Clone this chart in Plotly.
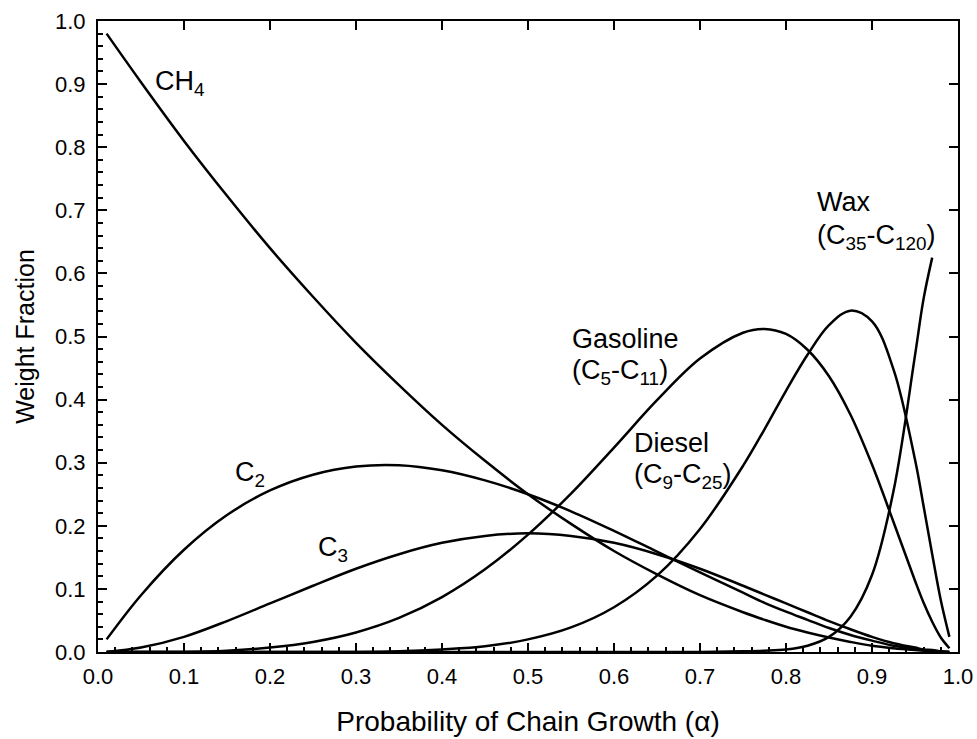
import plotly.graph_objects as go

# Probability of chain growth (alpha) sample points
alpha = [0.01, 0.05, 0.10, 0.15, 0.20, 0.25, 0.30, 0.35, 0.40, 0.45, 0.50, 0.55,
         0.60, 0.65, 0.70, 0.75, 0.775, 0.80, 0.825, 0.85, 0.875, 0.90, 0.925,
         0.95, 0.96, 0.97, 0.98, 0.99]

ch4 = [0.980, 0.903, 0.810, 0.723, 0.640, 0.563, 0.490, 0.423, 0.360, 0.303, 0.250, 0.203,
       0.160, 0.123, 0.090, 0.063, 0.051, 0.040, 0.031, 0.023, 0.016, 0.010, 0.006,
       0.003, 0.002, 0.001, 0.000, 0.000]
c2 = [0.020, 0.090, 0.162, 0.217, 0.256, 0.281, 0.294, 0.296, 0.288, 0.272, 0.250, 0.223,
      0.192, 0.159, 0.126, 0.094, 0.078, 0.064, 0.051, 0.038, 0.027, 0.018, 0.010,
      0.005, 0.003, 0.002, 0.001, 0.000]
c3 = [0.000, 0.007, 0.024, 0.049, 0.077, 0.105, 0.132, 0.155, 0.173, 0.184, 0.188, 0.184,
      0.173, 0.155, 0.132, 0.105, 0.091, 0.077, 0.063, 0.049, 0.036, 0.024, 0.014,
      0.007, 0.004, 0.003, 0.001, 0.000]
gasoline = [0.000, 0.000, 0.000, 0.002, 0.007, 0.016, 0.031, 0.054, 0.087, 0.131, 0.186, 0.251,
            0.324, 0.399, 0.465, 0.506, 0.512, 0.504, 0.479, 0.437, 0.376, 0.297, 0.206,
            0.113, 0.078, 0.048, 0.023, 0.006]
diesel = [0.000, 0.000, 0.000, 0.000, 0.000, 0.000, 0.000, 0.001, 0.004, 0.009, 0.020, 0.039,
          0.071, 0.121, 0.195, 0.295, 0.353, 0.414, 0.471, 0.518, 0.541, 0.524, 0.448,
          0.305, 0.231, 0.155, 0.082, 0.024]
wax = [0.000, 0.000, 0.000, 0.000, 0.000, 0.000, 0.000, 0.000, 0.000, 0.000, 0.000, 0.000,
       0.000, 0.000, 0.000, 0.001, 0.002, 0.004, 0.010, 0.024, 0.056, 0.122, 0.255,
       0.470, 0.560, 0.625, None, None]

series = [ch4, c2, c3, gasoline, diesel, wax]

# Curve labels: (lines of text, alpha, weight fraction)
labels = [
    (["CH<sub>4</sub>"], 0.064, [0.901]),
    (["C<sub>2</sub>"], 0.157, [0.282]),
    (["C<sub>3</sub>"], 0.253, [0.163]),
    (["Gasoline", "(C<sub>5</sub>-C<sub>11</sub>)"], 0.549, [0.496, 0.444]),
    (["Diesel", "(C<sub>9</sub>-C<sub>25</sub>)"], 0.621, [0.332, 0.279]),
    (["Wax", "(C<sub>35</sub>-C<sub>120</sub>)"], 0.834, [0.713, 0.657]),
]

x_ticks = [0.0, 0.1, 0.2, 0.3, 0.4, 0.5, 0.6, 0.7, 0.8, 0.9, 1.0]
y_ticks = [0.0, 0.1, 0.2, 0.3, 0.4, 0.5, 0.6, 0.7, 0.8, 0.9, 1.0]

FONT = "Liberation Sans, Arial, sans-serif"

fig = go.Figure()
for s in series:
    fig.add_trace(go.Scatter(x=alpha, y=s, mode="lines",
                             line=dict(color="black", width=2.5, shape="spline", smoothing=1.0),
                             showlegend=False, hoverinfo="skip"))
# empty trace for the mirrored top/right axes
fig.add_trace(go.Scatter(x=[], y=[], xaxis="x2", yaxis="y2", showlegend=False))

for lines, ax, ys in labels:
    for txt, yy in zip(lines, ys):
        fig.add_annotation(x=ax, y=yy, xref="x", yref="y", text=txt, showarrow=False,
                           xanchor="left", yanchor="middle",
                           font=dict(family=FONT, size=27, color="black"))

axis_common = dict(range=[0, 1], showgrid=False, zeroline=False, showline=True,
                   linecolor="black", linewidth=2, ticks="inside", ticklen=9,
                   tickwidth=1.5, tickcolor="black",
                   tickfont=dict(family=FONT, size=22, color="black"))

fig.update_layout(
    width=977, height=739,
    margin=dict(l=97.5, r=19, t=21, b=87, autoexpand=False),
    paper_bgcolor="white", plot_bgcolor="white",
    font=dict(family=FONT, color="black"),
    xaxis=dict(**axis_common, tickvals=x_ticks, ticktext=[f"{v:.1f}" for v in x_ticks],
               mirror=True, ticklabelstandoff=4,
               minor=dict(dtick=0.02, ticks="inside", ticklen=5, tickwidth=1.5, tickcolor="black"),
               title=dict(text="Probability of Chain Growth (α)",
                          font=dict(family=FONT, size=28, color="black"), standoff=23)),
    yaxis=dict(**axis_common, tickvals=y_ticks, ticktext=[f"{v:.1f}" for v in y_ticks],
               mirror=True, ticklabelstandoff=6,
               minor=dict(dtick=0.02, ticks="inside", ticklen=5, tickwidth=1.5, tickcolor="black"),
               title=dict(text="Weight Fraction",
                          font=dict(family=FONT, size=25, color="black"), standoff=13)),
    xaxis2=dict(range=[0, 1], overlaying="x", side="top", showgrid=False, zeroline=False,
                showline=True, linecolor="black", linewidth=2, ticks="inside", ticklen=9,
                tickwidth=1.5, tickcolor="black", tickvals=x_ticks, showticklabels=False),
    yaxis2=dict(range=[0, 1], overlaying="y", side="right", showgrid=False, zeroline=False,
                showline=True, linecolor="black", linewidth=2, ticks="inside", ticklen=9,
                tickwidth=1.5, tickcolor="black", tickvals=y_ticks, showticklabels=False),
)

fig.write_html("out.html", config={"displayModeBar": False},
               post_script="document.body.style.margin='0';document.body.style.overflow='hidden';")
